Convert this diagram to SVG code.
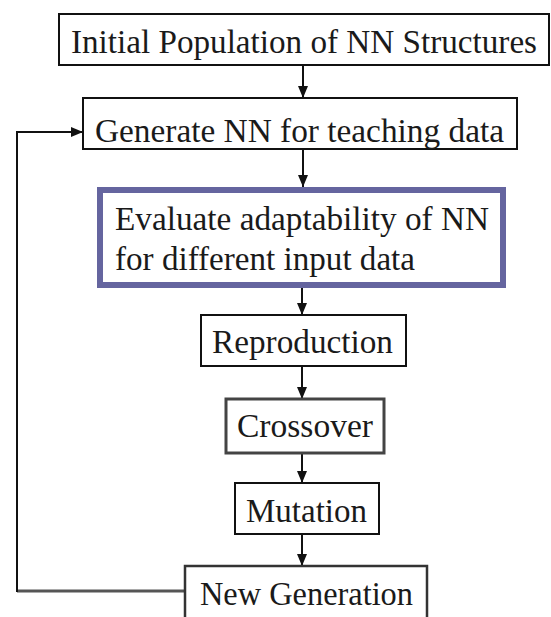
<svg xmlns="http://www.w3.org/2000/svg" width="551" height="617" viewBox="0 0 551 617">
<style>
.box{fill:#fff;stroke:#111;stroke-width:2}
.t{font-size:34px;fill:#1a1a1a}
.ln{fill:none;stroke:#111;stroke-width:2}
</style>
<defs>
<marker id="ah" viewBox="0 0 12 10" refX="12" refY="5" markerWidth="12" markerHeight="10" markerUnits="userSpaceOnUse" orient="auto">
<path d="M0,0 L12,5 L0,10 z" fill="#111"/>
</marker>
</defs>
<rect width="551" height="617" fill="#fff"/>
<g id="connectors">
<line class="ln" x1="303" y1="65" x2="303" y2="98" marker-end="url(#ah)"/>
<line class="ln" x1="303" y1="149" x2="303" y2="187" marker-end="url(#ah)"/>
<line class="ln" x1="302" y1="288" x2="302" y2="315" marker-end="url(#ah)"/>
<line class="ln" x1="302" y1="366" x2="302" y2="399" marker-end="url(#ah)"/>
<line class="ln" x1="302" y1="453" x2="302" y2="483" marker-end="url(#ah)"/>
<line class="ln" x1="302" y1="534" x2="302" y2="566" marker-end="url(#ah)"/>
<line x1="185" y1="591" x2="17" y2="591" stroke="#555" stroke-width="3"/>
<polyline class="ln" points="17,592 17,132 83,132" marker-end="url(#ah)"/>
</g>
<g font-family="'Liberation Serif', 'DejaVu Serif', 'Times New Roman', Times, serif">
<g id="n1">
<rect class="box" x="59" y="14" width="490" height="51"/>
<text class="t" x="71" y="53" textLength="466" lengthAdjust="spacingAndGlyphs">Initial Population of NN Structures</text>
</g>
<g id="n2">
<rect class="box" x="83" y="98" width="434" height="51"/>
<text class="t" x="95" y="142" textLength="409" lengthAdjust="spacingAndGlyphs">Generate NN for teaching data</text>
</g>
<g id="n3">
<rect x="100" y="190" width="403" height="95" fill="#fff" stroke="#65659f" stroke-width="6"/>
<text class="t" x="115" y="230" textLength="374" lengthAdjust="spacingAndGlyphs">Evaluate adaptability of NN</text>
<text class="t" x="115" y="270" textLength="300" lengthAdjust="spacingAndGlyphs">for different input data</text>
</g>
<g id="n4">
<rect class="box" x="201" y="315" width="205" height="51"/>
<text class="t" x="212" y="353" textLength="181" lengthAdjust="spacingAndGlyphs">Reproduction</text>
</g>
<g id="n5">
<rect x="226" y="399" width="158" height="54" fill="#fff" stroke="#444" stroke-width="3"/>
<text class="t" x="237" y="437" textLength="136" lengthAdjust="spacingAndGlyphs">Crossover</text>
</g>
<g id="n6">
<rect class="box" x="235" y="483" width="144" height="51"/>
<text class="t" x="246" y="522" textLength="121" lengthAdjust="spacingAndGlyphs">Mutation</text>
</g>
<g id="n7">
<rect x="185" y="566" width="242" height="60" fill="#fff" stroke="#333" stroke-width="2.5"/>
<text class="t" x="200" y="605" textLength="213" lengthAdjust="spacingAndGlyphs">New Generation</text>
</g>
</g>
</svg>
